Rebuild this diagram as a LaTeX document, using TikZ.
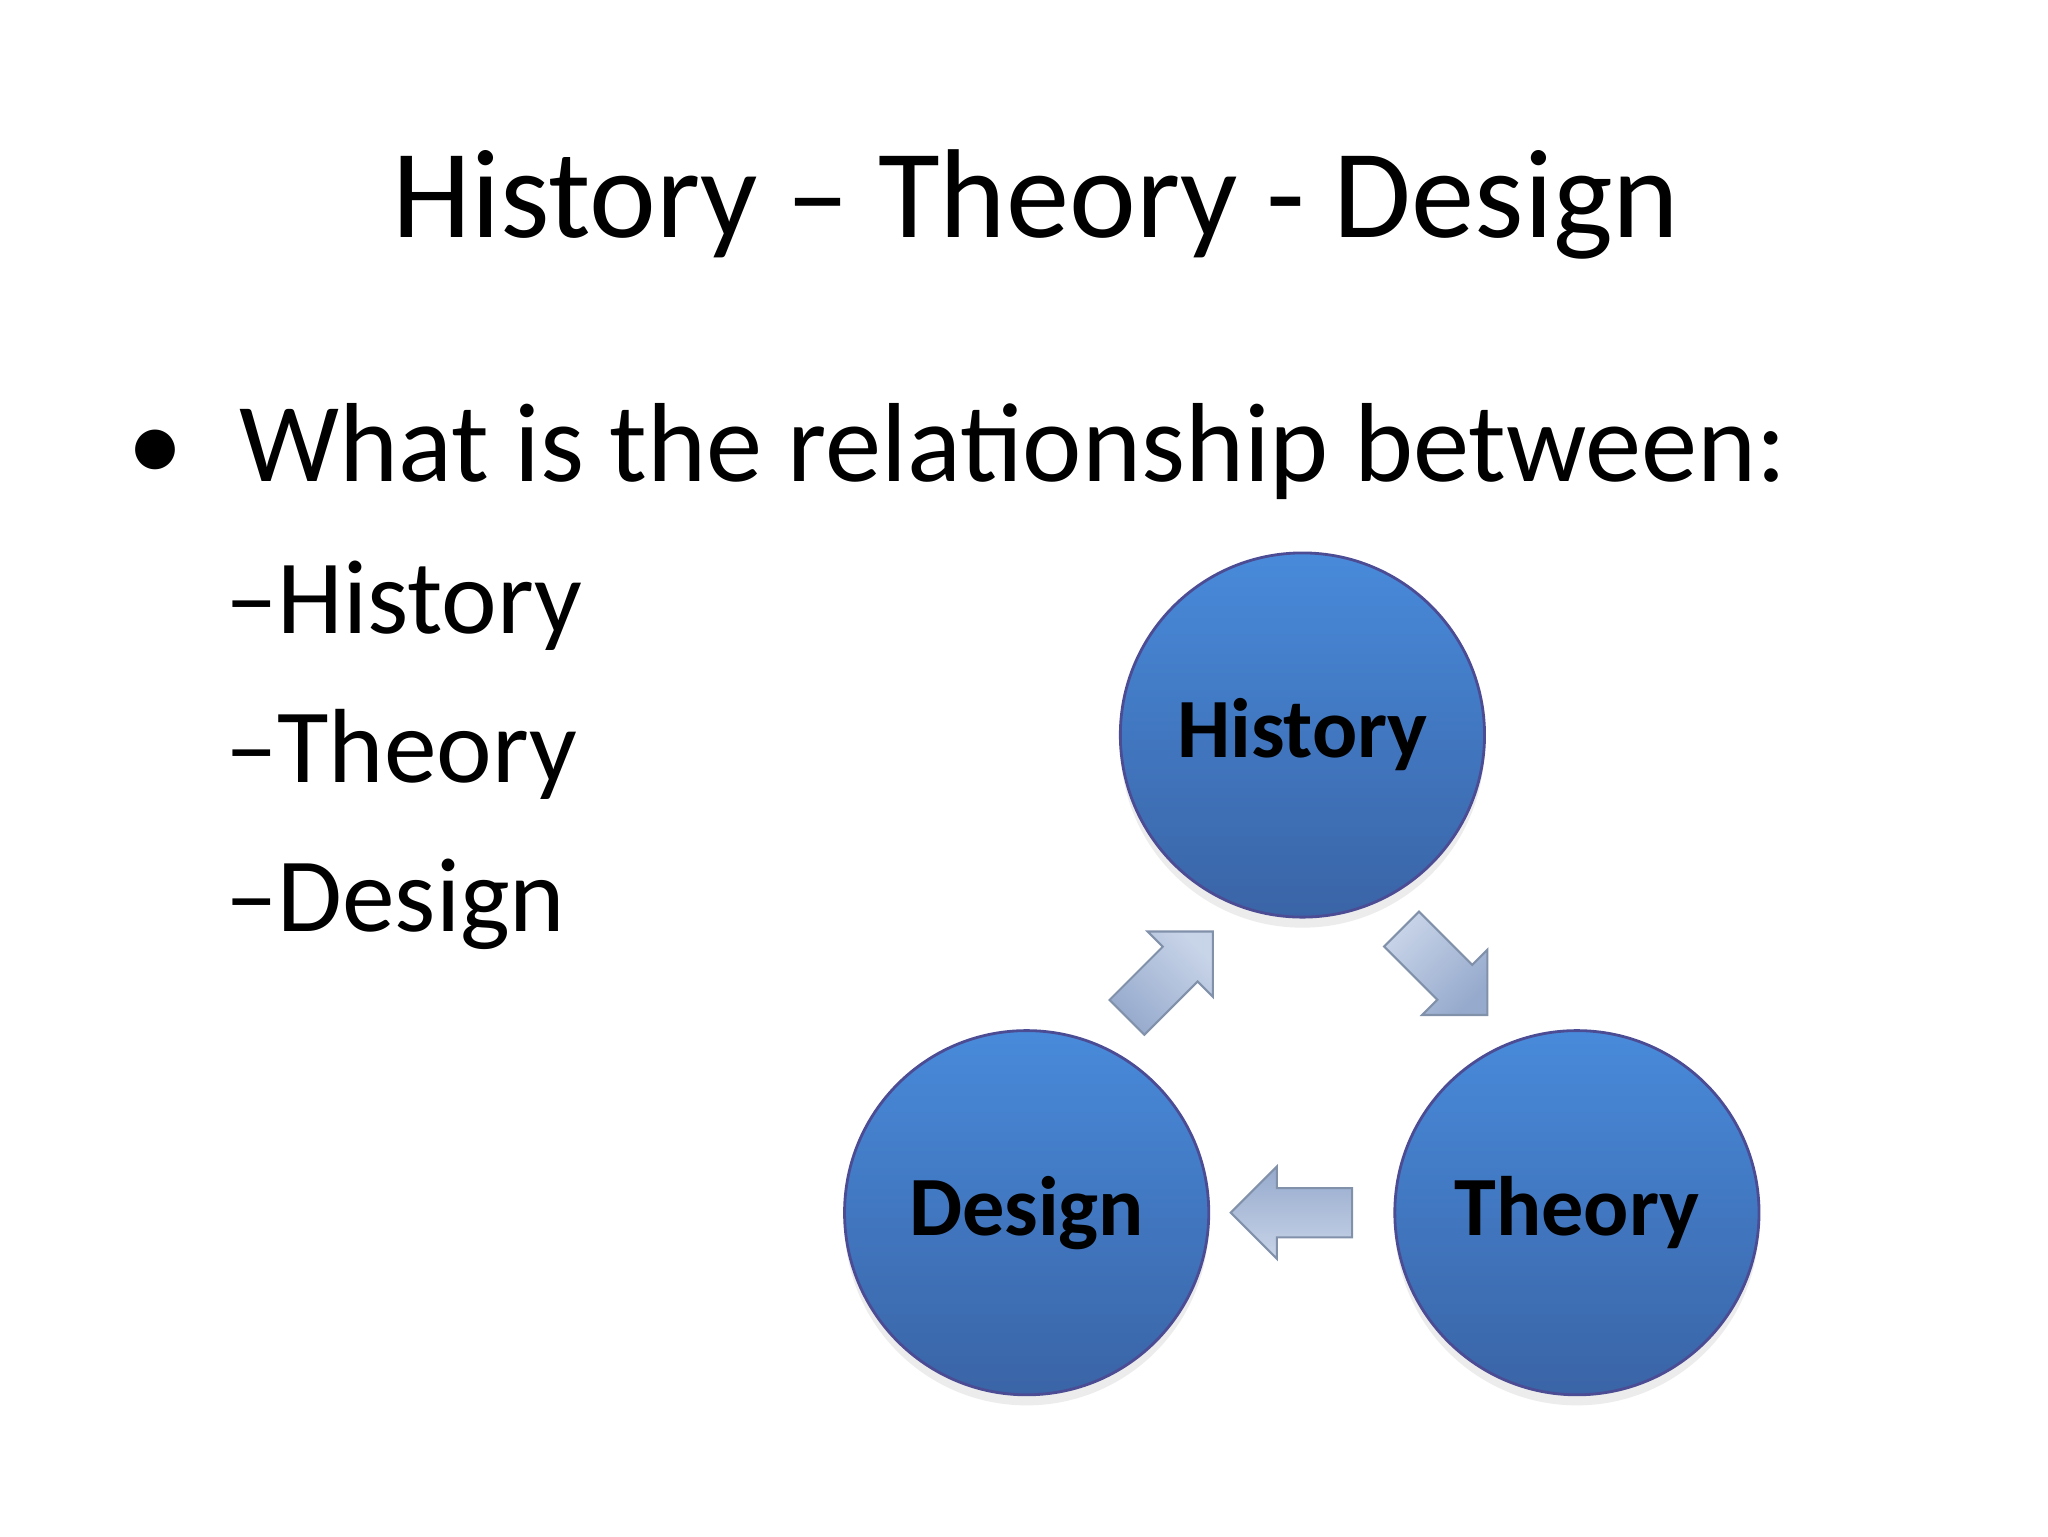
\documentclass[tikz,border=0pt]{standalone}
\usepackage{fontspec}
\setmainfont{Carlito}
\usetikzlibrary{shapes.arrows,shadows}
\begin{document}
\begin{tikzpicture}[x=0.0132cm,y=-0.0132cm,
  ball/.style={circle,minimum size={276*0.0132cm},draw=blue!40!black!70,line width=0.8pt,
    top color={rgb,255:red,72;green,138;blue,218},bottom color={rgb,255:red,58;green,100;blue,166},
    font=\fontsize{24pt}{28pt}\selectfont\bfseries,text=black,
    drop shadow={opacity=0.15,shadow xshift=0pt,shadow yshift=-3pt}},
  flow/.style={single arrow,minimum height={92*0.0132cm},minimum width={70*0.0132cm},
    single arrow head extend={10*0.0132cm},inner sep=4pt,
    draw={rgb,255:red,130;green,145;blue,170},line width=0.6pt,
    top color={rgb,255:red,200;green,212;blue,232},bottom color={rgb,255:red,150;green,170;blue,205}},
  big/.style={anchor=base west,inner sep=0pt}]
\useasboundingbox[fill=white] (0,0) rectangle (1552,1164);
\node[inner sep=0pt,anchor=base] (title) at (785,180) {\fontsize{36pt}{40pt}\selectfont History -- Theory - Design};
\node[big] (b0) at (96,365) {\fontsize{32pt}{36pt}\selectfont •\hspace{0.5em}What is the relationship between:};
\node[big] (s1) at (170,480) {\fontsize{30pt}{34pt}\selectfont –History};
\node[big] (s2) at (170,593) {\fontsize{30pt}{34pt}\selectfont –Theory};
\node[big] (s3) at (170,706) {\fontsize{30pt}{34pt}\selectfont –Design};
\node[ball] (h) at (987,557) {History};
\node[ball] (d) at (778,919) {Design};
\node[ball] (t) at (1195,919) {Theory};
\node[flow,rotate=-45,shading angle=45] (a1) at (1088,730) {};
\node[flow,rotate=180,shading angle=180] (a2) at (988,919) {};
\node[flow,rotate=45,shading angle=-45] (a3) at (880,745) {};
\end{tikzpicture}
\end{document}
